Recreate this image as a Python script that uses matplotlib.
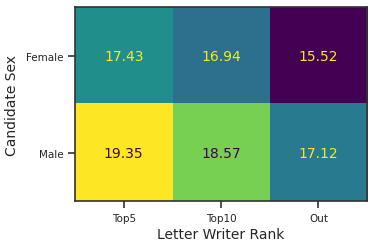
import numpy as np
import matplotlib
matplotlib.use("Agg")
from matplotlib import pyplot as plt
import seaborn as sns

ranks = ["Top5", "Top10", "Out"]
sexes = ["Female", "Male"]
female_scores = [17.43, 16.94, 15.52]
male_scores = [19.35, 18.57, 17.12]

sns.set_style("ticks")
plt.rcParams['font.family'] = ['DejaVu Sans']

values = np.array([female_scores, male_scores])
cmap = plt.get_cmap("viridis")

fig = plt.figure(figsize=(3.75, 2.51), dpi=100)
ax = fig.add_axes([0.2, 0.195, 0.779, 0.773])
ax.imshow(values, cmap=cmap, aspect="auto")

mid = (values.max() + values.min()) / 2
for i in range(values.shape[0]):
    for j in range(values.shape[1]):
        color = cmap(0.0) if values[i, j] > mid else cmap(1.0)
        ax.text(j, i, "{:.2f}".format(values[i, j]), ha="center", va="center",
                color=color, fontsize=10)

ax.set_xticks(range(len(ranks)))
ax.set_xticklabels(ranks, fontsize=7.5)
ax.set_yticks(range(len(sexes)))
ax.set_yticklabels(sexes, fontsize=7.5)
ax.tick_params(length=5, width=1.2, color="#333333", labelcolor="#262626")
ax.set_xlabel("Letter Writer Rank", fontsize=10, color="#262626", labelpad=3)
ax.set_ylabel("Candidate Sex", fontsize=10, color="#262626", labelpad=5)
for s in ax.spines.values():
    s.set_color("#333333")
    s.set_linewidth(1.2)

fig.savefig("out.png", dpi=100)
